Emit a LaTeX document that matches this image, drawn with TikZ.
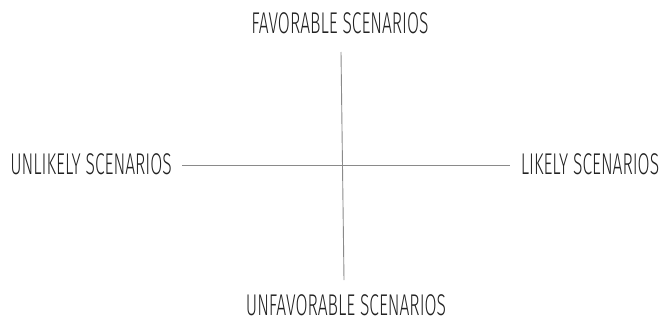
\documentclass[tikz,border=0pt]{standalone}
\usepackage{fontspec}
\usepackage{xcolor}
\newfontfamily\axisfont[FakeStretch=0.58]{Fira Sans Light}
\definecolor{inkgray}{HTML}{222222}
\definecolor{axisgray}{HTML}{8A8A8A}

\begin{document}
\begin{tikzpicture}[x=1pt, y=-1pt,
    label/.style={inner sep=0pt, text=inkgray, font=\axisfont\fontsize{30}{30}\selectfont},
    axis/.style={draw=axisgray, line width=0.9pt}]
    \useasboundingbox (0,0) rectangle (663,324);

    \node[label] (fav)    at (340,23)  {FAVORABLE SCENARIOS};
    \node[label] (unfav)  at (346,305) {UNFAVORABLE SCENARIOS};
    \node[label] (unlik)  at (91,164)  {UNLIKELY SCENARIOS};
    \node[label] (lik)    at (590,164) {LIKELY SCENARIOS};

    \coordinate (top)    at (341,52);
    \coordinate (bottom) at (344,280);
    \coordinate (left)   at (182,165);
    \coordinate (right)  at (510,165);

    \draw[axis] (top) -- (bottom);
    \draw[axis] (left) -- (right);
\end{tikzpicture}
\end{document}
